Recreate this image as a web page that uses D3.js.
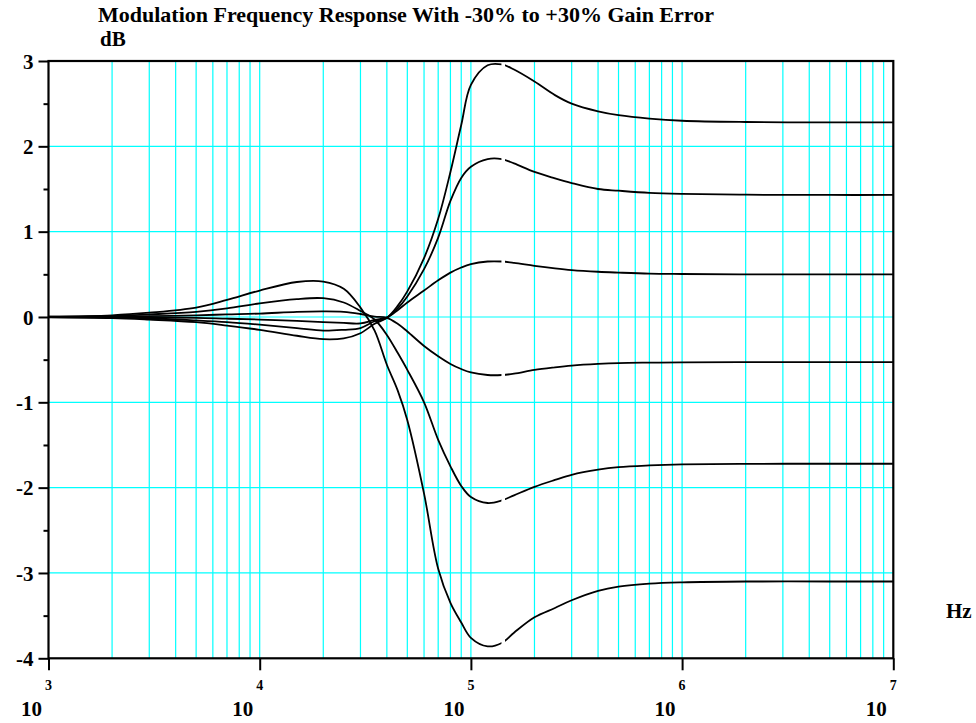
<!DOCTYPE html>
<html>
<head>
<meta charset="utf-8">
<script src="https://cdn.jsdelivr.net/npm/d3@7"></script>
<style>
  body { margin: 0; background: #fff; }
</style>
</head>
<body>
<div id="chart"></div>
<script>
// Frequency points (Hz)
const freqs = [1000, 2000, 3000, 5000, 7000, 10000, 15000, 20000, 25000, 30000, 35000,
    40000, 45000, 50000, 60000, 70000, 80000, 90000, 100000, 120000, 140000, 160000,
    200000, 250000, 300000, 400000, 500000, 700000, 1e6, 2e6, 5e6, 1e7];

// Response in dB for each gain error curve
const gainPlus30 = [-0.003, -0.012, -0.03, -0.06, -0.1, -0.15, -0.22, -0.26, -0.25, -0.19, -0.08,
    -0.01, 0.13, 0.3, 0.69, 1.15, 1.7, 2.25, 2.72, 2.95, 2.96, 2.9,
    2.76, 2.6, 2.5, 2.41, 2.365, 2.325, 2.3, 2.285, 2.28, 2.28];
const gainPlus18 = [-0.002, -0.008, -0.015, -0.04, -0.06, -0.09, -0.13, -0.16, -0.15, -0.13, -0.05,
    -0.01, 0.1, 0.24, 0.56, 0.93, 1.36, 1.63, 1.76, 1.85, 1.85, 1.8,
    1.7, 1.625, 1.57, 1.5, 1.48, 1.455, 1.443, 1.433, 1.43, 1.43];
const gainPlus6 = [-0.001, -0.003, -0.005, -0.01, -0.02, -0.03, -0.045, -0.06, -0.07, -0.075, -0.035,
    -0.005, 0.08, 0.17, 0.31, 0.43, 0.52, 0.58, 0.62, 0.65, 0.65, 0.635,
    0.6, 0.57, 0.55, 0.53, 0.52, 0.508, 0.504, 0.5, 0.5, 0.5];
const gainMinus6 = [0.001, 0.004, 0.01, 0.02, 0.03, 0.04, 0.06, 0.065, 0.06, 0.035, 0.005,
    -0.01, -0.08, -0.17, -0.34, -0.46, -0.55, -0.61, -0.65, -0.68, -0.68, -0.665,
    -0.62, -0.59, -0.57, -0.55, -0.54, -0.535, -0.532, -0.53, -0.53, -0.53];
const gainMinus18 = [0.003, 0.012, 0.03, 0.06, 0.1, 0.16, 0.21, 0.22, 0.17, 0.07, -0.03,
    -0.21, -0.42, -0.62, -1.0, -1.44, -1.75, -1.98, -2.11, -2.18, -2.15, -2.09,
    -1.99, -1.91, -1.85, -1.79, -1.76, -1.74, -1.728, -1.721, -1.72, -1.72];
const gainMinus30 = [0.005, 0.02, 0.05, 0.11, 0.2, 0.31, 0.41, 0.415, 0.33, 0.11, -0.16,
    -0.56, -0.86, -1.21, -2.07, -2.95, -3.35, -3.58, -3.76, -3.86, -3.82, -3.7,
    -3.52, -3.41, -3.32, -3.21, -3.16, -3.125, -3.11, -3.1, -3.1, -3.1];

const seriesList = [gainPlus30, gainPlus18, gainPlus6, gainMinus6, gainMinus18, gainMinus30];

// Tick values
const yMajorTicks = [-4, -3, -2, -1, 0, 1, 2, 3];
const yMinorTicks = [-3.5, -2.5, -1.5, -0.5, 0.5, 1.5, 2.5];
const xDecades = [1e3, 1e4, 1e5, 1e6, 1e7];
const xExponents = ["3", "4", "5", "6", "7"];
// small break in the plotted traces (Hz)
const traceGap = [139500, 145000];

const width = 976, height = 723;
const fontFamily = '"Liberation Serif", "Times New Roman", serif';

const svg = d3.select("#chart").append("svg")
    .attr("width", width)
    .attr("height", height);

const x = d3.scaleLog().domain([1e3, 1e7]).range([48.5, 893.3]);
const y = d3.scaleLinear().domain([-4, 3]).range([658.3, 61]);

// Cyan grid: minor log lines and integer dB lines
const gridX = [];
xDecades.slice(0, -1).forEach(function (d) {
    for (let k = 1; k <= 9; k++) {
        if (d * k > 1e3) gridX.push(d * k);
    }
});
svg.append("g").selectAll("line")
    .data(gridX)
    .enter().append("line")
    .attr("x1", d => x(d)).attr("x2", d => x(d))
    .attr("y1", y(3)).attr("y2", y(-4))
    .attr("stroke", "#00ffff").attr("stroke-width", 1.2);
svg.append("g").selectAll("line")
    .data(yMajorTicks.filter(d => d > -4 && d < 3))
    .enter().append("line")
    .attr("x1", x(1e3)).attr("x2", x(1e7))
    .attr("y1", d => y(d)).attr("y2", d => y(d))
    .attr("stroke", "#00ffff").attr("stroke-width", 1.2);

// Clip for the short break in the traces
const clip = svg.append("defs").append("clipPath").attr("id", "traceClip");
clip.append("rect")
    .attr("x", 0).attr("y", 0)
    .attr("width", x(traceGap[0])).attr("height", height);
clip.append("rect")
    .attr("x", x(traceGap[1])).attr("y", 0)
    .attr("width", width - x(traceGap[1])).attr("height", height);

const line = d3.line()
    .x((d, i) => x(freqs[i]))
    .y(d => y(d))
    .curve(d3.curveCatmullRom.alpha(0.5));

svg.append("g")
    .attr("clip-path", "url(#traceClip)")
    .selectAll("path")
    .data(seriesList)
    .enter().append("path")
    .attr("d", line)
    .attr("fill", "none")
    .attr("stroke", "#000")
    .attr("stroke-width", 1.8);

// Frame
svg.append("rect")
    .attr("x", x(1e3)).attr("y", y(3))
    .attr("width", x(1e7) - x(1e3)).attr("height", y(-4) - y(3))
    .attr("fill", "none").attr("stroke", "#000").attr("stroke-width", 2.2);

// Y axis
const yAxis = svg.append("g")
    .attr("transform", "translate(" + x(1e3) + ",0)")
    .call(d3.axisLeft(y).tickValues(yMajorTicks).tickSize(10).tickPadding(5)
        .tickFormat(d => String(d)));
yAxis.select(".domain").remove();
yAxis.selectAll("line").attr("stroke", "#000").attr("stroke-width", 2);
yAxis.selectAll("text")
    .attr("dy", "0.34em")
    .style("font-family", fontFamily)
    .style("font-weight", "bold")
    .style("font-size", "21px")
    .attr("fill", "#000");

const yMinor = svg.append("g")
    .attr("transform", "translate(" + x(1e3) + ",0)")
    .call(d3.axisLeft(y).tickValues(yMinorTicks).tickSize(5).tickFormat(""));
yMinor.select(".domain").remove();
yMinor.selectAll("line").attr("stroke", "#000").attr("stroke-width", 2);

// X axis (decade ticks only)
const xAxis = svg.append("g")
    .attr("transform", "translate(0," + y(-4) + ")")
    .call(d3.axisBottom(x).tickValues(xDecades).tickSize(12).tickFormat(""));
xAxis.select(".domain").remove();
xAxis.selectAll("line").attr("stroke", "#000").attr("stroke-width", 2);

// Helper for plain bold serif text
function label(sel, size) {
    return sel.style("font-family", fontFamily)
        .style("font-weight", "bold")
        .style("font-size", size + "px")
        .attr("fill", "#000");
}

// Decade labels as 10 with raised exponent
const xLabels = svg.append("g");
label(xLabels.selectAll("text.exp")
    .data(xDecades)
    .enter().append("text")
    .attr("class", "exp")
    .attr("x", d => x(d))
    .attr("y", 690)
    .attr("text-anchor", "middle")
    .text((d, i) => xExponents[i]), 14);
label(xLabels.selectAll("text.base")
    .data(xDecades)
    .enter().append("text")
    .attr("class", "base")
    .attr("x", d => x(d) - 6.5)
    .attr("y", 716)
    .attr("text-anchor", "end")
    .text("10"), 21);

// Titles
label(svg.append("text")
    .attr("x", 98).attr("y", 22)
    .text("Modulation Frequency Response With -30% to +30% Gain Error"), 22);
label(svg.append("text")
    .attr("x", 100).attr("y", 46)
    .text("dB"), 21);
label(svg.append("text")
    .attr("x", 946).attr("y", 618)
    .text("Hz"), 21);
</script>
</body>
</html>
